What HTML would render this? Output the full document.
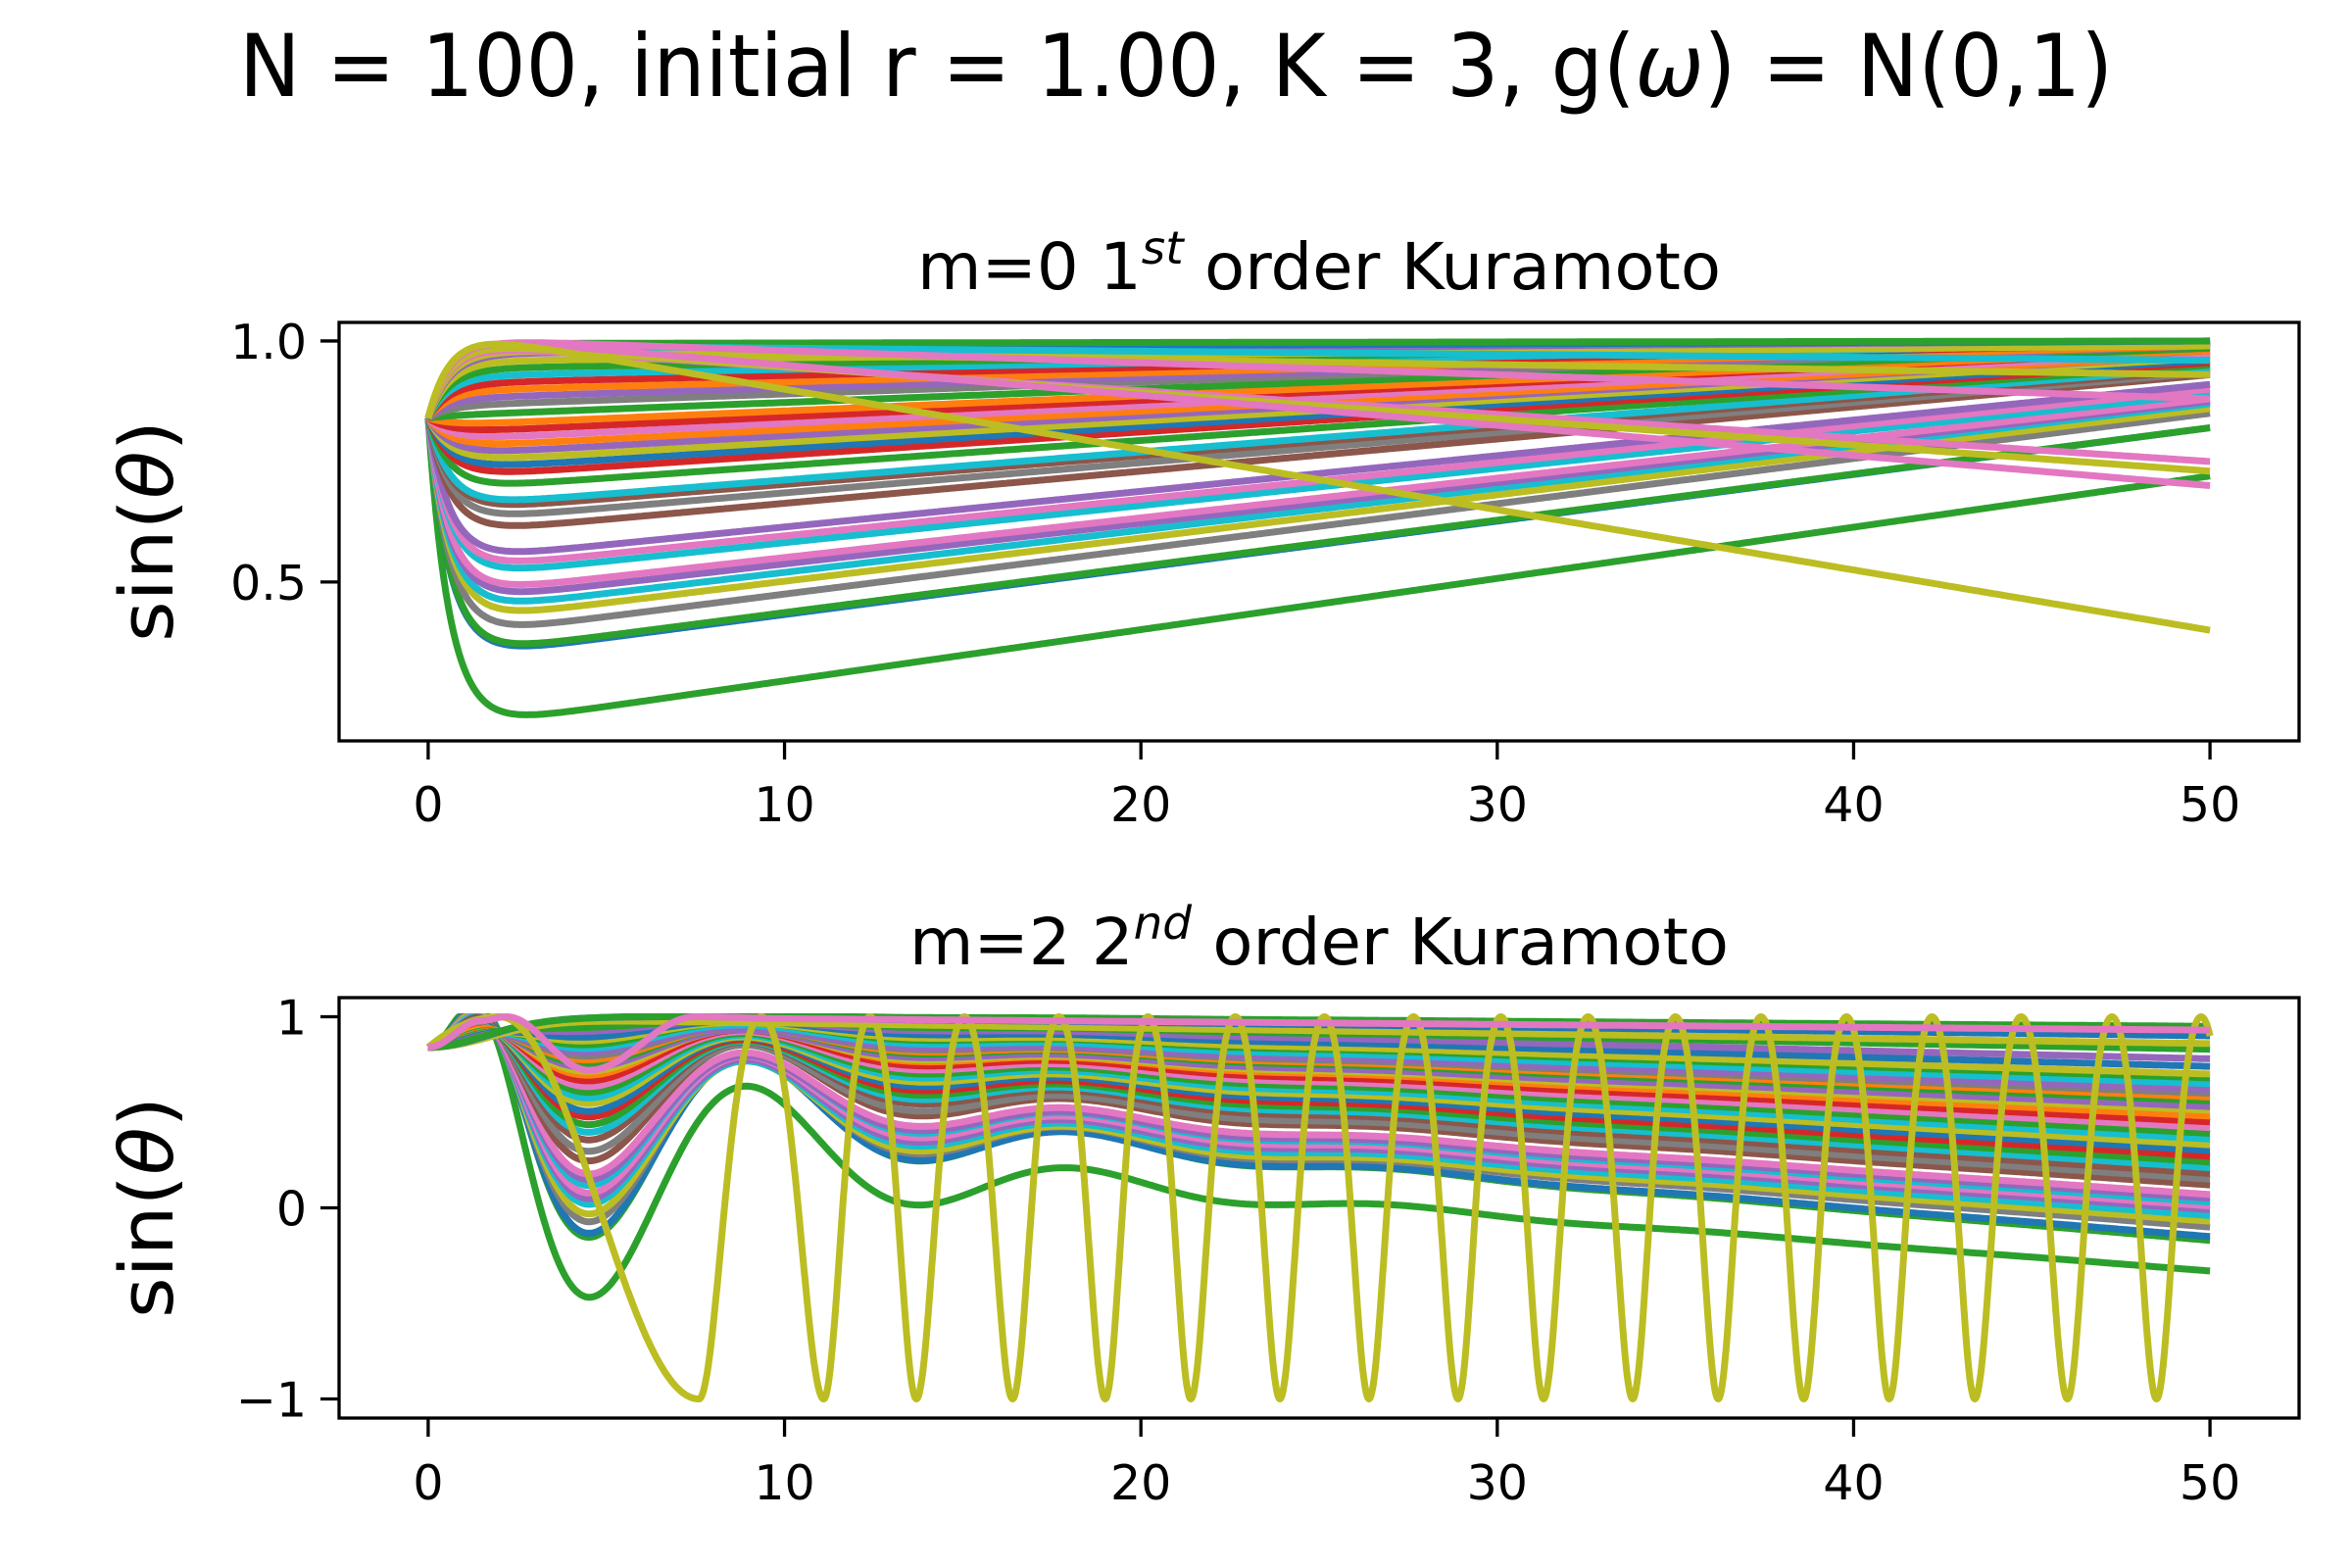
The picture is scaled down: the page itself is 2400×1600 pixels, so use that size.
<!DOCTYPE html>
<html><head><meta charset="utf-8"><style>
html,body{margin:0;padding:0;background:#fff;}
svg{display:block;font-family:"DejaVu Sans","Liberation Sans",sans-serif;}
</style></head><body>
<svg id="fig" xmlns="http://www.w3.org/2000/svg" width="2400" height="1600" viewBox="0 0 2400 1600">
<rect width="2400" height="1600" fill="#fff"/>
<text x="1200" y="98" font-size="88" text-anchor="middle" textLength="1912" lengthAdjust="spacingAndGlyphs">N = 100, initial r = 1.00, K = 3, g(<tspan font-style="italic">ω</tspan>) = N(0,1)</text>
<text x="1346" y="295" font-size="66" text-anchor="middle" textLength="820" lengthAdjust="spacingAndGlyphs">m=0 1<tspan font-size="46" font-style="italic" dy="-26">st</tspan><tspan dy="26"> order Kuramoto</tspan></text>
<text x="1346" y="984" font-size="66" text-anchor="middle" textLength="836" lengthAdjust="spacingAndGlyphs">m=2 2<tspan font-size="46" font-style="italic" dy="-26">nd</tspan><tspan dy="26"> order Kuramoto</tspan></text>
<text transform="translate(176,542) rotate(-90)" font-size="76" text-anchor="middle" textLength="226" lengthAdjust="spacingAndGlyphs">sin(<tspan font-style="italic">θ</tspan>)</text>
<text transform="translate(176,1232) rotate(-90)" font-size="76" text-anchor="middle" textLength="226" lengthAdjust="spacingAndGlyphs">sin(<tspan font-style="italic">θ</tspan>)</text>
<defs>
<clipPath id="clipTop"><rect x="346" y="329" width="2000" height="427"/></clipPath>
<clipPath id="clipBot"><rect x="346" y="1018" width="2000" height="429"/></clipPath>
</defs>
<g id="topLines" clip-path="url(#clipTop)"></g>
<g id="botLines" clip-path="url(#clipBot)"></g>
<g id="axesG"></g>
</svg>
<script>
// ---- data ----
const xTicks = [0, 10, 20, 30, 40, 50];
const topYTicks = [1.0, 0.5];
const topYTickLabels = ["1.0", "0.5"];
const botYTicks = [1, 0, -1];
const botYTickLabels = ["1", "0", "\u22121"];
// top plot: plateau value reached ~t=2, and value at t=50
const topPlateau = [0.21,0.355,0.36,0.40,0.43,0.45,0.47,0.485,0.52,0.535,0.555,0.61,0.635,0.655,0.665,0.70,0.725,0.74,0.755,0.77,0.785,0.80,0.815,0.83,0.85,0.87,0.885,0.90,0.915,0.93,0.945,0.96,0.975,0.985,0.995,0.98,0.99,1.0,0.985,0.99,1.0,1.0];
const topEnd     = [0.72,0.82,0.82,0.85,0.86,0.87,0.875,0.88,0.89,0.90,0.91,0.93,0.935,0.94,0.945,0.95,0.955,0.96,0.965,0.97,0.97,0.975,0.98,0.98,0.985,0.99,0.99,0.99,0.995,0.995,0.995,0.99,1.0,1.0,1.0,0.93,0.96,0.88,0.75,0.73,0.70,0.40];
const topColorIdx = [2,0,2,7,8,9,4,6,9,6,4,5,7,5,9,2,3,0,8,4,1,6,3,1,2,7,4,1,3,9,2,8,4,0,2,8,9,6,6,8,6,8];
// bottom plot: first dip (t~4.75), trend value at t=20, value at t=50
const botDip = [-0.47,-0.15,-0.13,-0.07,-0.03,0.02,0.05,0.08,0.12,0.15,0.18,0.25,0.30,0.36,0.40,0.44,0.48,0.51,0.55,0.58,0.61,0.64,0.67,0.70,0.72,0.74,0.76,0.78,0.80,0.82,0.84,0.86,0.88,0.90,0.93,0.95,0.98,1.0,1.0];
const botMid = [0.10,0.30,0.30,0.33,0.34,0.36,0.38,0.40,0.42,0.43,0.45,0.50,0.52,0.55,0.57,0.59,0.61,0.63,0.65,0.67,0.69,0.71,0.73,0.75,0.76,0.77,0.79,0.80,0.81,0.82,0.84,0.86,0.87,0.89,0.91,0.93,0.94,0.97,0.99];
const botEnd = [-0.33,-0.17,-0.15,-0.10,-0.07,-0.04,-0.01,0.01,0.03,0.05,0.07,0.12,0.15,0.18,0.21,0.24,0.27,0.30,0.33,0.36,0.39,0.42,0.45,0.48,0.51,0.53,0.56,0.58,0.60,0.62,0.65,0.68,0.70,0.74,0.78,0.83,0.86,0.90,0.95];
const botColorIdx = [2,2,0,7,8,9,4,6,9,4,6,5,7,5,9,2,3,0,8,9,2,6,3,1,8,4,2,1,7,4,9,2,8,0,4,2,8,0,2];
// special oscillators (bottom)
const pinkT = [0, 1.5, 2.2, 4.5, 7.5, 10, 50];
const pinkY = [0.84, 0.98, 1.0, 0.72, 1.0, 0.99, 0.93];
const yellowMinT = [7.6,11.1,13.7,16.4,19.0,21.4,23.9,26.4,28.9,31.3,33.8,36.2,38.6,41.0,43.4,46.0,48.5];
const startVal = 0.84;
const tab10 = ["#1f77b4","#ff7f0e","#2ca02c","#d62728","#9467bd","#8c564b","#e377c2","#7f7f7f","#bcbd22","#17becf"];

// ---- axes ----
const NS = "http://www.w3.org/2000/svg";
const AX = {left:346, right:2346};
const xMin=-2.5, xMax=52.5;
const xs = t => AX.left + (t - xMin)/(xMax - xMin)*(AX.right-AX.left);
const TOP = {top:329, bottom:756, yMin:0.1705, yMax:1.0385};
const BOT = {top:1018, bottom:1447, yMin:-1.1, yMax:1.1};
const ysF = A => v => A.bottom - (v - A.yMin)/(A.yMax - A.yMin)*(A.bottom - A.top);
const yTop = ysF(TOP), yBot = ysF(BOT);

function mk(tag, attrs, parent){
  const e = document.createElementNS(NS, tag);
  for (const k in attrs) e.setAttribute(k, attrs[k]);
  parent.appendChild(e); return e;
}
function pathFrom(fn, ys){
  let d = "";
  const n = 700;
  for (let i=0;i<=n;i++){
    const t = 50*i/n;
    d += (i? "L":"M") + xs(t).toFixed(1) + "," + ys(fn(t)).toFixed(1);
  }
  return d;
}
const LW = 7;

// top lines
const gTop = document.getElementById("topLines");
for (let i=0;i<topPlateau.length;i++){
  const a = topPlateau[i], b = topEnd[i];
  const lin = t => a + (b-a)*(t-2)/48;
  const f = t => Math.min(1, lin(t) + (startVal - lin(0))*Math.exp(-t/0.6));
  const p = mk("path", {d: pathFrom(f, yTop), fill:"none", stroke: tab10[topColorIdx[i]], "stroke-width": LW, "stroke-linejoin":"round"}, gTop);
  
  
}

// bottom lines
const gBot = document.getElementById("botLines");
const tau = 6, om = 2*Math.PI/9.2;
for (let i=0;i<botDip.length;i++){
  const m = botDip[i], v20 = botMid[i], e = botEnd[i];
  const k = (e - v20)/30;
  const trend = t => v20 + k*(t-20);
  const s = trend(0);
  const env = t => Math.exp(-t/tau)*(1-Math.exp(-(t/2)*(t/2)));
  const D = (trend(4.75) - m)/env(4.75);
  const f = t => Math.min(1, trend(t) + (startVal - s)*Math.exp(-(t/2.5)*(t/2.5)) - D*env(t)*Math.cos(om*(t-4.75)));
  const p = mk("path", {d: pathFrom(f, yBot), fill:"none", stroke: tab10[botColorIdx[i]], "stroke-width": LW, "stroke-linejoin":"round"}, gBot);
  
  
}
// pink special (smooth cosine interpolation)
function interp(T, Y, t){
  for (let j=0;j<T.length-1;j++){
    if (t<=T[j+1]){
      const u = (t-T[j])/(T[j+1]-T[j]);
      const w = j===T.length-2 ? u : (1-Math.cos(Math.PI*u))/2;
      return Y[j] + (Y[j+1]-Y[j])*w;
    }
  }
  return Y[Y.length-1];
}
// yellow rotating oscillator
const phT = [0, 2.0].concat(yellowMinT);
const phV = [Math.asin(startVal), Math.PI/2].concat(yellowMinT.map((_,j)=>1.5*Math.PI + 2*Math.PI*j));
function yellowF(t){
  let phi;
  if (t >= phT[phT.length-1]){
    const n = phT.length-1; phi = phV[n] + (t-phT[n])*(phV[n]-phV[n-1])/(phT[n]-phT[n-1]);
  } else {
    let j=0; while (t > phT[j+1]) j++;
    phi = phV[j] + (phV[j+1]-phV[j])*(t-phT[j])/(phT[j+1]-phT[j]);
  }
  if (t < yellowMinT[0]) return Math.sin(phi);
  const th = phi + 0.3*Math.cos(phi);
  return Math.sin(th);
}
(function(){
  let d=""; const n=3000;
  for (let i=0;i<=n;i++){ const t=50*i/n; d += (i?"L":"M")+xs(t).toFixed(1)+","+yBot(yellowF(t)).toFixed(1); }
  const yp = mk("path", {d, fill:"none", stroke: tab10[8], "stroke-width": LW, "stroke-linejoin":"round"}, gBot);
  
  
})();
const pinkPath = mk("path", {d: pathFrom(t=>interp(pinkT,pinkY,t), yBot), fill:"none", stroke: tab10[6], "stroke-width": LW, "stroke-linejoin":"round"}, gBot);



// axes frames, ticks, labels
const gA = document.getElementById("axesG");
function drawAxes(A, ys, yT, yL, prefix, xLabelBase){
  const fr = mk("rect", {x:AX.left, y:A.top, width:AX.right-AX.left, height:A.bottom-A.top, fill:"none", stroke:"#000", "stroke-width":3.3}, gA);
  
  
  xTicks.forEach(v=>{
    const x = xs(v);
    const tk = mk("line", {x1:x, x2:x, y1:A.bottom, y2:A.bottom+19, stroke:"#000", "stroke-width":3.3}, gA);
    
    
    const tl = mk("text", {x:x, y:xLabelBase, "font-size":49, "text-anchor":"middle"}, gA);
    tl.textContent = String(v);
    
    
  });
  yT.forEach((v,i)=>{
    const y = ys(v);
    const tk = mk("line", {x1:AX.left-19, x2:AX.left, y1:y, y2:y, stroke:"#000", "stroke-width":3.3}, gA);
    
    
    const tl = mk("text", {x:AX.left-33, y:y+18, "font-size":49, "text-anchor":"end"}, gA);
    tl.textContent = yL[i];
    
    
  });
}
drawAxes(TOP, yTop, topYTicks, topYTickLabels, "top", 838);
drawAxes(BOT, yBot, botYTicks, botYTickLabels, "bottom", 1530);
</script>
</body></html>
